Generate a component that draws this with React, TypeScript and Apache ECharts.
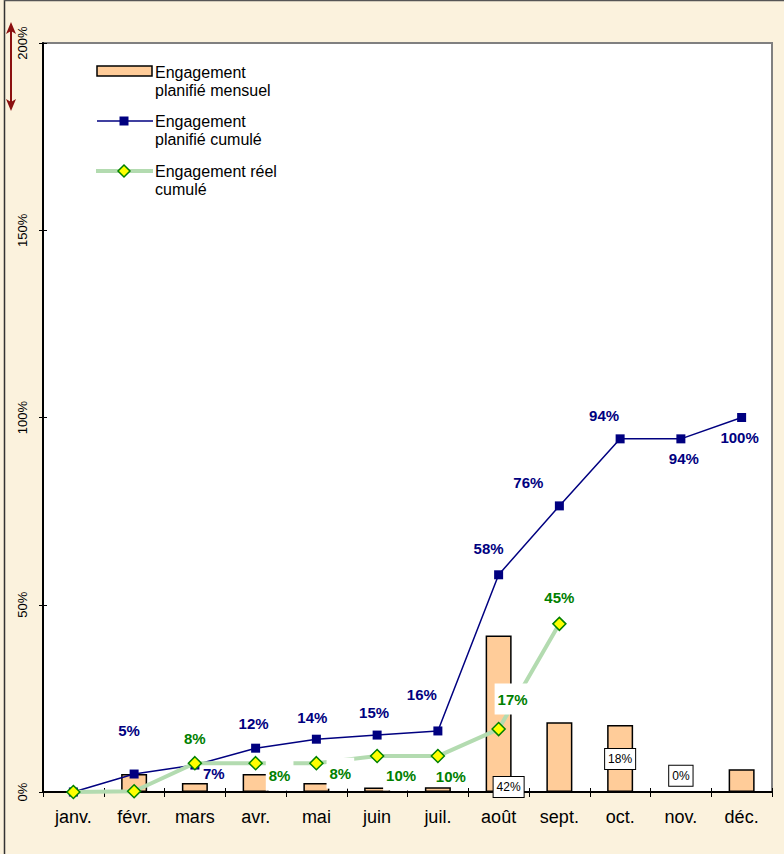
import React, { useEffect, useRef } from "react";
import * as echarts from "echarts";

const months = ["janv.", "févr.", "mars", "avr.", "mai", "juin", "juil.", "août", "sept.", "oct.", "nov.", "déc."];
const plannedMonthly = [0, 4.8, 2.4, 4.8, 2.4, 1.2, 1.3, 41.8, 18.6, 17.9, 0, 6.1];
const plannedCumul = [0, 4.8, 7.2, 11.7, 14.1, 15.2, 16.3, 58.0, 76.4, 94.3, 94.3, 100];
const actualCumul: (number | null)[] = [0, 0.2, 7.7, 7.7, 7.7, 9.6, 9.6, 16.8, 44.9, null, null, null];
const yTicks = [0, 50, 100, 150, 200];
const seriesNames = ["Engagement\nplanifié mensuel", "Engagement\nplanifié cumulé", "Engagement réel\ncumulé"];

// which bar labels are shown, and label offsets (layout only)
const barLabelOffsets: ([number, number] | null)[] = [null, null, null, null, null, null, null, [10, 10], null, [0, -18], [0, -2], null];
const plannedLabelOffsets: ([number, number] | null)[] = [null, [-5, -44], [19, 8], [-2, -25], [-4, -22], [-3, -23], [-16, -36], [-10, -26], [-31, -23], [-16, -23], [3, 20], [-2, 20]];
const actualLabelOffsets: ([number, number] | null)[] = [null, null, [0, -25], [24, 12], [24, 10], [24, 19], [13, 20], [14, -30], [0, -26], null, null, null];
const actualLabelBoxed = [false, false, true, true, true, true, false, true, true, false, false, false];

const FONT = "'Liberation Sans', Arial, sans-serif";
const NAVY = "#000080";
const GREEN = "#008000";
const LIGHTGREEN = "#B3DBB0";
const BAR = "#FFCC99";

const GRID = { left: 43, right: 12, top: 43, bottom: 62 };
const W = 784;
const H = 854;

export default function App() {
  const ref = useRef<HTMLDivElement>(null);
  useEffect(() => {
    document.body.style.margin = "0";
    if (!ref.current) return;
    const chart = echarts.init(ref.current, undefined, { renderer: "svg" });
    const plotW = W - GRID.left - GRID.right;
    const plotH = H - GRID.top - GRID.bottom;

    const barData = plannedMonthly.map((v, i) => {
      const off = barLabelOffsets[i];
      return {
        value: v,
        label: off
          ? {
              show: true,
              position: "insideBottom",
              offset: off,
              formatter: (p: any) => Math.round(p.value) + "%",
              fontFamily: FONT,
              fontSize: 12,
              color: "#000",
              backgroundColor: "#fff",
              borderColor: "#000",
              borderWidth: 1,
              padding: [4, 3],
            }
          : { show: false },
      };
    });

    const plannedData = plannedCumul.map((v, i) => {
      const off = plannedLabelOffsets[i];
      return {
        value: v,
        label: off
          ? {
              show: true,
              position: "inside",
              offset: off,
              formatter: (p: any) => Math.round(p.value) + "%",
              fontFamily: FONT,
              fontSize: 15,
              fontWeight: "bold",
              color: NAVY,
            }
          : { show: false },
      };
    });

    const actualData = actualCumul.map((v, i) => {
      const off = actualLabelOffsets[i];
      return {
        value: v === null ? "-" : v,
        label: off
          ? {
              show: true,
              position: "inside",
              offset: off,
              formatter: (p: any) => Math.round(p.value) + "%",
              fontFamily: FONT,
              fontSize: 15,
              fontWeight: "bold",
              color: GREEN,
              backgroundColor: actualLabelBoxed[i] ? "#fff" : "transparent",
              padding: [8, 3],
            }
          : { show: false },
      };
    });

    const legendText = (y: number, text: string) => ({
      type: "text",
      left: 155,
      top: y,
      style: { text, font: `16px ${FONT}`, fill: "#000", lineHeight: 18 },
      z: 100,
    });

    chart.setOption({
      animation: false,
      backgroundColor: "#FBF2DD",
      textStyle: { fontFamily: FONT },
      grid: {
        ...GRID,
        show: true,
        backgroundColor: "#fff",
        borderColor: "#808080",
        borderWidth: 2,
      },
      xAxis: [
        {
          type: "category",
          data: months,
          boundaryGap: true,
          axisLine: { lineStyle: { color: "#000", width: 2 } },
          axisTick: { show: true, interval: 0, length: 5, lineStyle: { color: "#000", width: 1 } },
          axisLabel: { fontFamily: FONT, fontSize: 18, color: "#000", margin: 16, interval: 0 },
          splitLine: { show: false },
        },
        {
          type: "category",
          data: months,
          position: "top",
          offset: -plotH,
          boundaryGap: true,
          axisLine: { show: false },
          axisTick: { show: true, interval: 0, length: 4, lineStyle: { color: "#000", width: 1 } },
          axisLabel: { show: false },
          splitLine: { show: false },
        },
      ],
      yAxis: [
        {
          type: "value",
          min: yTicks[0],
          max: yTicks[yTicks.length - 1],
          interval: yTicks[1] - yTicks[0],
          axisLine: { show: true, lineStyle: { color: "#000", width: 2 } },
          axisTick: { show: true, length: 4, lineStyle: { color: "#000", width: 1 } },
          axisLabel: {
            rotate: 90,
            fontFamily: FONT,
            fontSize: 13,
            color: "#000",
            margin: 14,
            formatter: "{value}%",
          },
          splitLine: { show: false },
        },
        {
          type: "value",
          position: "right",
          offset: -plotW,
          min: yTicks[0],
          max: yTicks[yTicks.length - 1],
          interval: yTicks[1] - yTicks[0],
          axisLine: { show: false },
          axisTick: { show: true, length: 4, lineStyle: { color: "#000", width: 1 } },
          axisLabel: { show: false },
          splitLine: { show: false },
        },
      ],
      series: [
        {
          name: seriesNames[0],
          type: "bar",
          xAxisIndex: 0,
          yAxisIndex: 0,
          barWidth: 26,
          data: barData,
          itemStyle: { color: BAR, borderColor: "#000", borderWidth: 1.5 },
          z: 2,
        },
        {
          name: seriesNames[1],
          type: "line",
          xAxisIndex: 0,
          yAxisIndex: 0,
          data: plannedData,
          symbol: "rect",
          symbolSize: 9,
          lineStyle: { color: NAVY, width: 1.5 },
          itemStyle: { color: NAVY },
          z: 3,
        },
        {
          name: seriesNames[2],
          type: "line",
          xAxisIndex: 0,
          yAxisIndex: 0,
          data: actualData,
          symbol: "diamond",
          symbolSize: 13,
          connectNulls: false,
          lineStyle: { color: LIGHTGREEN, width: 4 },
          itemStyle: { color: "#FFFF00", borderColor: GREEN, borderWidth: 1.5 },
          z: 4,
        },
      ],
      graphic: [
        // outer frame
        { type: "line", shape: { x1: 4.5, y1: 0, x2: 4.5, y2: H }, style: { stroke: "#333", lineWidth: 1.5 }, z: 100 },
        { type: "line", shape: { x1: 4, y1: 0.5, x2: W, y2: 0.5 }, style: { stroke: "#555", lineWidth: 1.5 }, z: 100 },
        // double arrow
        { type: "line", shape: { x1: 11, y1: 30, x2: 11, y2: 103 }, style: { stroke: "#8B1010", lineWidth: 2 }, z: 100 },
        { type: "polygon", shape: { points: [[11, 22], [6, 34], [11, 31], [16, 34]] }, style: { fill: "#8B1010" }, z: 100 },
        { type: "polygon", shape: { points: [[11, 111], [6, 99], [11, 102], [16, 99]] }, style: { fill: "#8B1010" }, z: 100 },
        // legend: bar
        { type: "rect", shape: { x: 97, y: 66, width: 55, height: 10 }, style: { fill: BAR, stroke: "#000", lineWidth: 1.5 }, z: 100 },
        legendText(63, seriesNames[0]),
        // legend: planned cumul
        { type: "line", shape: { x1: 97, y1: 121, x2: 153, y2: 121 }, style: { stroke: NAVY, lineWidth: 1.5 }, z: 100 },
        { type: "rect", shape: { x: 119.5, y: 116.5, width: 9, height: 9 }, style: { fill: NAVY }, z: 101 },
        legendText(112, seriesNames[1]),
        // legend: actual cumul
        { type: "line", shape: { x1: 96, y1: 171, x2: 153, y2: 171 }, style: { stroke: LIGHTGREEN, lineWidth: 4 }, z: 100 },
        { type: "polygon", shape: { points: [[124, 165], [130, 171], [124, 177], [118, 171]] }, style: { fill: "#FFFF00", stroke: GREEN, lineWidth: 1.5 }, z: 101 },
        legendText(162, seriesNames[2]),
      ],
    });
    return () => chart.dispose();
  }, []);
  return <div ref={ref} style={{ width: W, height: H }} />;
}
